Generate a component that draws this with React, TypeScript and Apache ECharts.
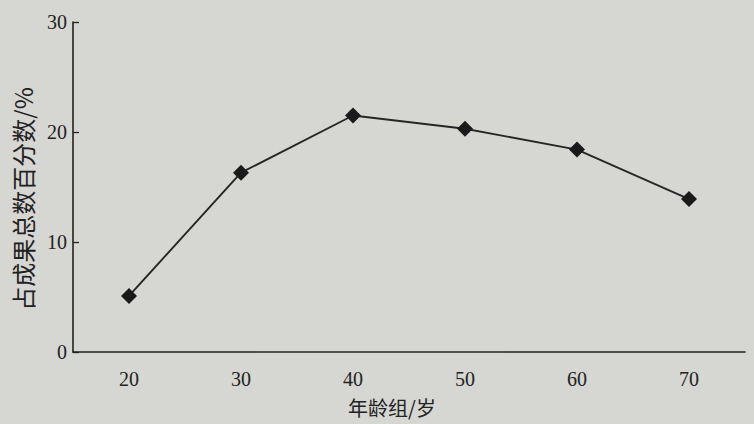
import React, { useEffect, useRef } from "react";
import * as echarts from "echarts";

const ageGroups = ["20", "30", "40", "50", "60", "70"];
const percentValues = [5.1, 16.3, 21.5, 20.3, 18.4, 13.9];
const yTicks = [0, 10, 20, 30];

export default function App() {
  const ref = useRef<HTMLDivElement>(null);
  useEffect(() => {
    document.body.style.margin = "0";
    const chart = echarts.init(ref.current!, null, { renderer: "svg" });
    const ink = "#222222";
    chart.setOption({
      animation: false,
      backgroundColor: "#d6d6d2",
      grid: { left: 73, right: 9, top: 22, bottom: 72 },
      xAxis: {
        type: "category",
        data: ageGroups,
        boundaryGap: true,
        name: "年龄组/岁",
        nameLocation: "middle",
        nameGap: 45,
        nameTextStyle: {
          fontFamily: "Noto Sans CJK SC",
          fontSize: 20,
          color: ink,
          padding: [0, 34, 0, 0],
        },
        axisLine: { lineStyle: { color: ink, width: 1.6 } },
        axisTick: { inside: true, length: 6, lineStyle: { color: ink, width: 1.3 } },
        axisLabel: {
          margin: 17,
          fontFamily: "Liberation Serif",
          fontSize: 20,
          color: ink,
        },
        splitLine: { show: false },
      },
      yAxis: {
        type: "value",
        min: yTicks[0],
        max: yTicks[yTicks.length - 1],
        interval: 10,
        name: "占成果总数百分数/%",
        nameLocation: "middle",
        nameGap: 39,
        nameRotate: 90,
        nameTextStyle: {
          fontFamily: "Noto Sans CJK SC",
          fontSize: 24,
          color: ink,
          padding: [0, 24, 0, 0],
        },
        axisLine: { show: true, lineStyle: { color: ink, width: 1.6 } },
        axisTick: { show: true, inside: true, length: 6, lineStyle: { color: ink, width: 1.3 } },
        axisLabel: {
          margin: 6,
          fontFamily: "Liberation Serif",
          fontSize: 20,
          color: ink,
        },
        splitLine: { show: false },
      },
      series: [
        {
          type: "line",
          data: percentValues,
          symbol: "diamond",
          symbolSize: 16,
          itemStyle: { color: "#1a1a1a" },
          lineStyle: { color: "#262626", width: 1.9 },
        },
      ],
    });
    return () => chart.dispose();
  }, []);
  return <div ref={ref} style={{ width: 754, height: 424 }} />;
}
